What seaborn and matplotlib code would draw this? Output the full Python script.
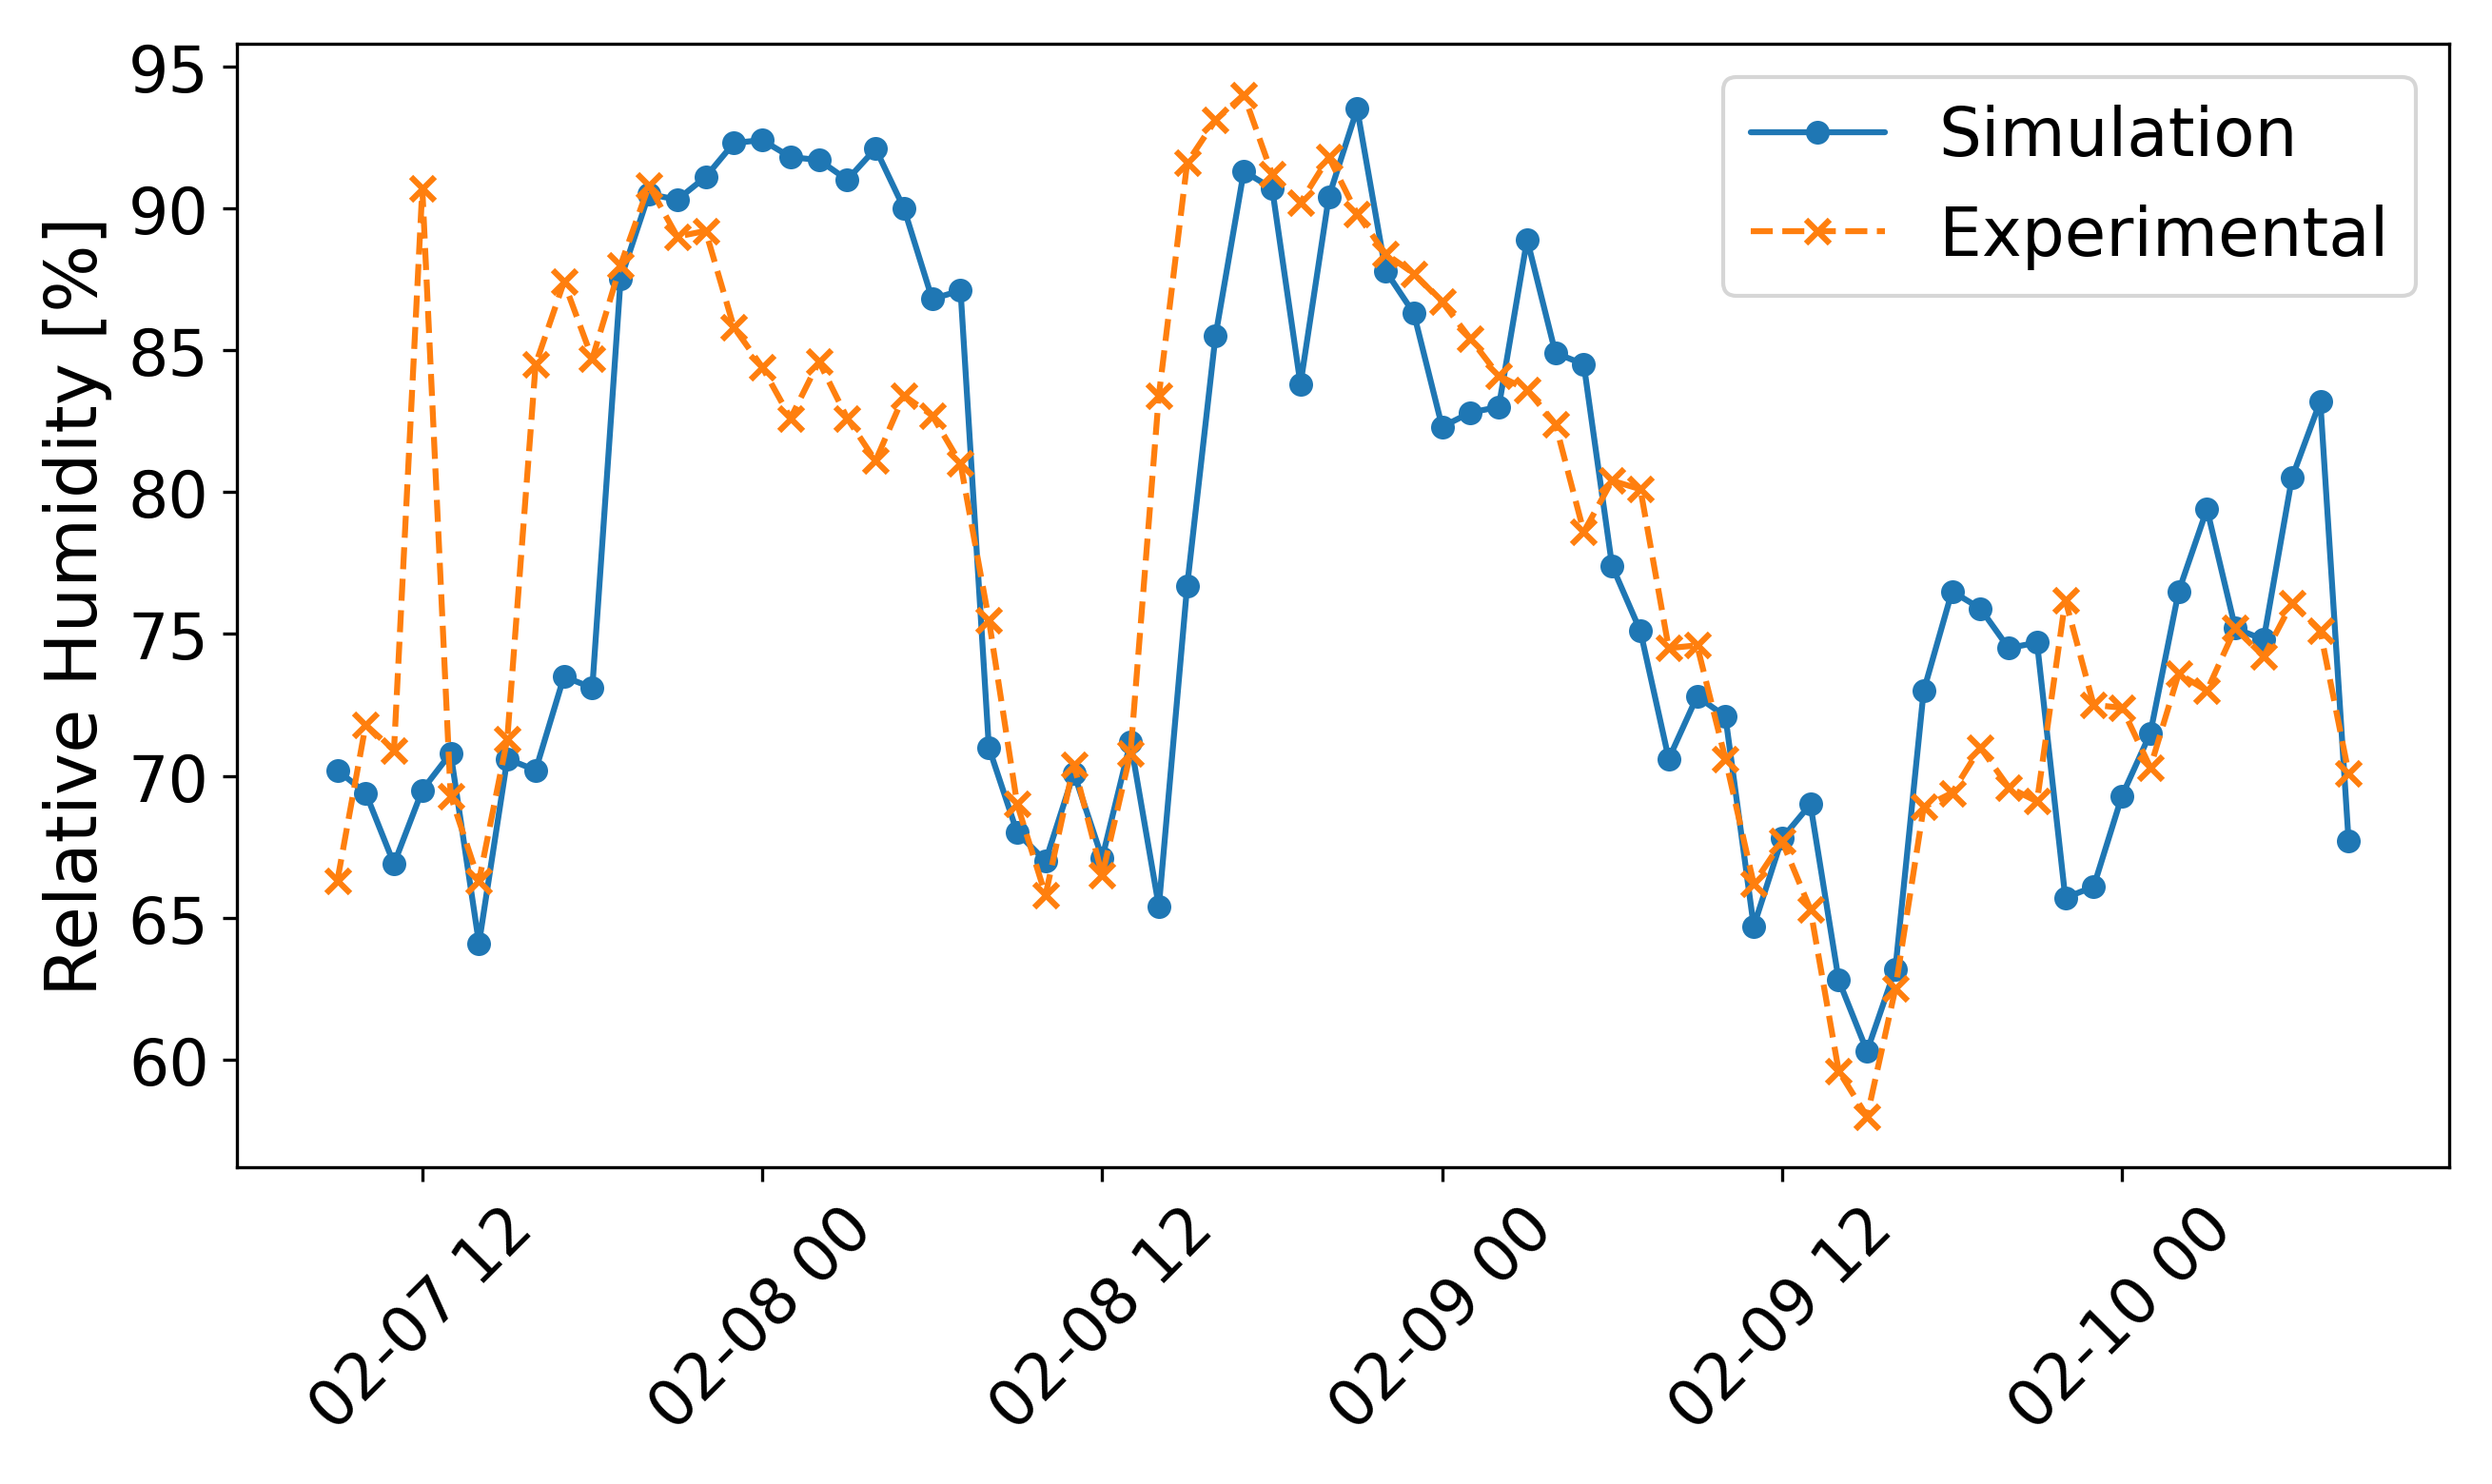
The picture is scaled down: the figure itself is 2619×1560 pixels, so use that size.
import matplotlib
matplotlib.use("Agg")
import matplotlib.pyplot as plt
import matplotlib.dates as mdates
import seaborn as sns
import pandas as pd

start = "2019-02-07 09:00"
simulation = [70.2,69.4,66.9,69.5,70.8,64.1,70.6,70.2,73.5,73.1,87.5,90.5,90.3,91.1,92.3,92.4,91.8,91.7,91.0,92.1,
              90.0,86.8,87.1,71.0,68.0,67.0,70.1,67.1,71.2,65.4,76.7,85.5,91.3,90.7,83.8,90.4,93.5,87.8,86.3,82.3,
              82.8,83.0,88.9,84.9,84.5,77.4,75.1,70.6,72.8,72.1,64.7,67.8,69.0,62.8,60.3,63.2,73.0,76.5,75.9,74.5,
              74.7,65.7,66.1,69.3,71.5,76.5,79.4,75.2,74.8,80.5,83.2,67.7]
experimental = [66.3,71.8,70.9,90.7,69.3,66.3,71.3,84.5,87.4,84.7,88.0,90.8,89.0,89.2,85.8,84.4,82.6,84.6,82.6,81.1,
                83.4,82.7,81.0,75.5,69.0,65.8,70.4,66.5,70.8,83.4,91.6,93.1,94.0,91.2,90.2,91.8,89.8,88.4,87.7,86.7,
                85.4,84.1,83.6,82.4,78.6,80.4,80.1,74.5,74.6,70.6,66.2,67.7,65.3,59.6,58.0,62.5,68.9,69.4,71.0,69.6,
                69.1,76.2,72.5,72.4,70.3,73.6,73.0,75.2,74.2,76.1,75.1,70.1]
times = pd.date_range(start, periods=len(simulation), freq="h")
df = pd.DataFrame({"time": times, "Simulation": simulation, "Experimental": experimental})

sns.set_style("ticks", {"text.color": "black", "axes.labelcolor": "black",
                        "xtick.color": "black", "ytick.color": "black", "axes.edgecolor": "black"})
plt.rcParams['font.family'] = ['DejaVu Sans']
fig, ax = plt.subplots(figsize=(8.73, 5.203), dpi=300)
sns.lineplot(data=df, x="time", y="Simulation", ax=ax, color="#1f77b4", marker="o",
             markersize=6, markeredgecolor="#1f77b4", markeredgewidth=0, label="Simulation", linewidth=1.5)
sns.lineplot(data=df, x="time", y="Experimental", ax=ax, color="#ff7f0e", marker="x",
             markersize=6, markeredgecolor="#ff7f0e", markeredgewidth=1.5, linestyle="--",
             label="Experimental", linewidth=1.5)
ax.set_xlabel("")
ax.set_ylabel("Relative Humidity [%]", fontsize=18)
ax.xaxis.set_major_locator(mdates.HourLocator(byhour=[0, 12]))
ax.xaxis.set_major_formatter(mdates.DateFormatter("%m-%d %H"))
ax.tick_params(labelsize=16)
plt.setp(ax.get_xticklabels(), rotation=45)
ax.set_yticks([60, 65, 70, 75, 80, 85, 90, 95])
ax.set_ylim(56.2, 95.8)
ax.legend(fontsize=17, loc="upper right", fancybox=True)
fig.tight_layout()
fig.savefig("out.png", dpi=300)
